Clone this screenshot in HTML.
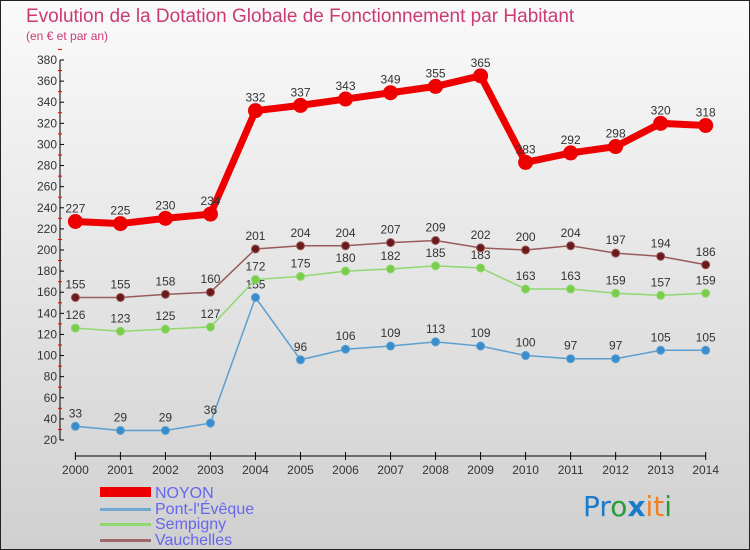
<!DOCTYPE html>
<html><head><meta charset="utf-8"><style>
body{margin:0;width:750px;height:550px;overflow:hidden;font-family:"Liberation Sans",sans-serif}
#root{position:absolute;left:0;top:0;width:748px;height:548px;border:1px solid #222;background:linear-gradient(#fafafa,#d0d0d0)}
</style></head><body>
<div id="root">
<svg width="750" height="550" style="position:absolute;left:-1px;top:-1px" id="svg">
<text x="26" y="22" font-size="19" fill="#cc3a73">Evolution de la Dotation Globale de Fonctionnement par Habitant</text>
<text x="26" y="40" font-size="12" fill="#cc3a73">(en € et par an)</text>
<g id="axes"></g><g id="series"></g>
<g>
<rect x="100" y="487" width="51" height="10" fill="#e00"/>
<text x="155" y="498" font-size="16" fill="#6666ee">NOYON</text>
<rect x="100" y="508" width="51" height="3" fill="#6fa8d0"/>
<text x="155" y="514" font-size="16" fill="#6666ee">Pont-l'Évêque</text>
<rect x="100" y="523" width="51" height="3" fill="#8fd870"/>
<text x="155" y="529" font-size="16" fill="#6666ee">Sempigny</text>
<rect x="100" y="539" width="51" height="3" fill="#a06868"/>
<text x="155" y="545" font-size="16" fill="#6666ee">Vauchelles</text>
</g>
<g font-size="28" font-family="DejaVu Sans,sans-serif">
<text x="583" y="516"><tspan fill="#1a7acc">Pr</tspan><tspan fill="#2a9a3a">o</tspan><tspan fill="#1a7acc" font-weight="bold">x</tspan><tspan fill="#f08020">it</tspan><tspan fill="#2a9a3a">i</tspan></text>
</g>
</svg>
</div>
<script>
const years=[2000,2001,2002,2003,2004,2005,2006,2007,2008,2009,2010,2011,2012,2013,2014];
const noyon=[227,225,230,234,332,337,343,349,355,365,283,292,298,320,318];
const pont=[33,29,29,36,155,96,106,109,113,109,100,97,97,105,105];
const sempigny=[126,123,125,127,172,175,180,182,185,183,163,163,159,157,159];
const vauchelles=[155,155,158,160,201,204,204,207,209,202,200,204,197,194,186];
const yTicks=[20,40,60,80,100,120,140,160,180,200,220,240,260,280,300,320,340,360,380];
const NS='http://www.w3.org/2000/svg';
const X=i=>75.4+i*45.02;
const Y=v=>440-(v-20)*(380/360);
function mk(t,a,p){const e=document.createElementNS(NS,t);for(const k in a)e.setAttribute(k,a[k]);p.appendChild(e);return e;}
const ax=document.getElementById('axes'),sg=document.getElementById('series');
let yl=mk('line',{x1:60,y1:60,x2:60,y2:440,stroke:'#000'},ax);


yTicks.forEach(v=>{
 mk('line',{x1:60,x2:64,y1:Y(v),y2:Y(v),stroke:'#000'},ax);
 mk('line',{x1:58,x2:62,y1:Y(v+10),y2:Y(v+10),stroke:'#e00'},ax);
 const t=mk('text',{x:57,y:Y(v)+4,'font-size':12,fill:'#333','text-anchor':'end'},ax);t.textContent=v;
 
 
});
let xl=mk('line',{x1:75,y1:456,x2:706,y2:456,stroke:'#000'},ax);


years.forEach((y,i)=>{
 mk('line',{x1:X(i),x2:X(i),y1:452,y2:460,stroke:'#000'},ax);
 const t=mk('text',{x:X(i),y:474,'font-size':12,fill:'#333','text-anchor':'middle'},ax);t.textContent=y;
 
 
});
function series(d,name,line,dot,lw,r){
 const g=mk('g',{},sg);
 
 
 mk('polyline',{points:d.map((v,i)=>X(i)+','+Y(v)).join(' '),fill:'none',stroke:line,'stroke-width':lw},g);
 d.forEach((v,i)=>{
  const c=mk('circle',{cx:X(i),cy:Y(v),r:r,fill:dot,stroke:line,'stroke-width':1},g);
  
  
  const t=mk('text',{x:X(i),y:Y(v)-9,'font-size':12,fill:'#333','text-anchor':'middle'},g);t.textContent=v;
  
  
 });
}
series(pont,'pont','#5a9fd0','#3a8ccc',1.5,4);
series(sempigny,'sempigny','#8fd870','#7ccc4c',1.5,4);
series(vauchelles,'vauchelles','#9a5a5a','#6a1a1a',1.5,4);
series(noyon,'noyon','#e00','#e00',7,7);
</script>
</body></html>
